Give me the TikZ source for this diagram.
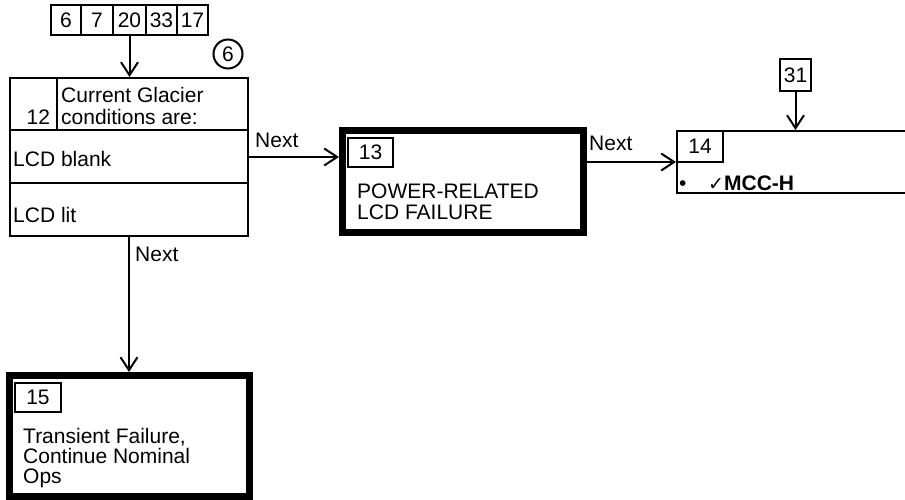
\documentclass[tikz,border=0pt]{standalone}
\usepackage{fontspec}
\setmainfont{Liberation Sans}
\newfontfamily\symfont{DejaVu Sans}
\usetikzlibrary{arrows.meta}
\tikzset{
  box/.style={draw, line width=2pt, inner sep=0pt, rectangle},
  heavybox/.style={draw, line width=7pt, inner sep=0pt, rectangle},
  txt/.style={inner sep=0pt, anchor=base west},
  arr/.style={line width=2pt, -{Straight Barb[length=13pt,width=17pt,line width=2pt]}},
  every node/.style={font=\fontsize{21}{21}\selectfont}
}
\begin{document}
\begin{tikzpicture}[x=1pt,y=-1pt]
\useasboundingbox (0,0) rectangle (905,500);
% top reference boxes
\node[box, minimum width=30pt, minimum height=30pt] (t6) at (66,20.5) {6};
\node[box, minimum width=32pt, minimum height=30pt] (t7) at (97,20.5) {7};
\node[box, minimum width=33pt, minimum height=30pt] (t20) at (129.5,20.5) {20};
\node[box, minimum width=31pt, minimum height=30pt] (t33) at (161.5,20.5) {33};
\node[box, minimum width=31pt, minimum height=30pt] (t17) at (192.5,20.5) {17};
% circle
\node[draw, circle, line width=2pt, minimum size=29pt, inner sep=0pt] (c6) at (228,54) {6};
% box 12
\node[box, minimum width=238pt, minimum height=158pt] (b12) at (129,157) {};
\coordinate (d1) at (57,78);
\coordinate (d2) at (57,130);
\draw[line width=2pt] (d1) -- (d2);
\draw[line width=2pt] (b12.west |- d2) -- (b12.east |- d2);
\coordinate (d3) at (0,183);
\draw[line width=2pt] (b12.west |- d3) -- (b12.east |- d3);
\node[txt] (n12) at (26.5,125) {12};
\node[txt] (l12a) at (61,103) {Current Glacier};
\node[txt] (l12b) at (61,125) {conditions are:};
\node[txt] (l12c) at (13,167) {LCD blank};
\node[txt] (l12d) at (13,222) {LCD lit};
% box 13
\node[heavybox, minimum width=241pt, minimum height=102pt] (b13) at (463,181.5) {};
\node[box, minimum width=45pt, minimum height=29pt] (i13) at (370.5,152.5) {13};
\node[txt] (l13a) at (357,198) {POWER-RELATED};
\node[txt] (l13b) at (357,219) {LCD FAILURE};
% box 14
\node[box, minimum width=283pt, minimum height=62pt] (b14) at (818.5,162) {};
\node[box, minimum width=46pt, minimum height=31pt] (i14) at (700,146.5) {14};
\node[txt] (bul) at (679,190) {•};
\node[txt] (l14) at (708,190) {{\symfont\fontsize{19}{19}\selectfont ✓}\textbf{MCC-H}};
% box 31
\node[box, minimum width=31pt, minimum height=32pt] (b31) at (795.5,75) {31};
% box 15
\node[heavybox, minimum width=240pt, minimum height=121pt] (b15) at (129.5,436) {};
\node[box, minimum width=46pt, minimum height=29pt] (i15) at (38,397.5) {15};
\node[txt] (l15a) at (23,443) {Transient Failure,};
\node[txt] (l15b) at (23,463) {Continue Nominal};
\node[txt] (l15c) at (23,483) {Ops};
% connectors
\draw[arr] (t20.south) -- (t20.south |- b12.north);
\draw[arr] (b12.east) -- (b13.west |- b12.east);
\draw[arr] (b13.east |- b14.west) -- (b14.west);
\draw[arr] (b31.south) -- (b31.south |- b14.north);
\draw[arr] (b12.south) -- (b12.south |- b15.north);
% labels
\node[txt] (nx1) at (255,147) {Next};
\node[txt] (nx2) at (589,151) {Next};
\node[txt] (nx3) at (135,261) {Next};
\end{tikzpicture}
\end{document}
